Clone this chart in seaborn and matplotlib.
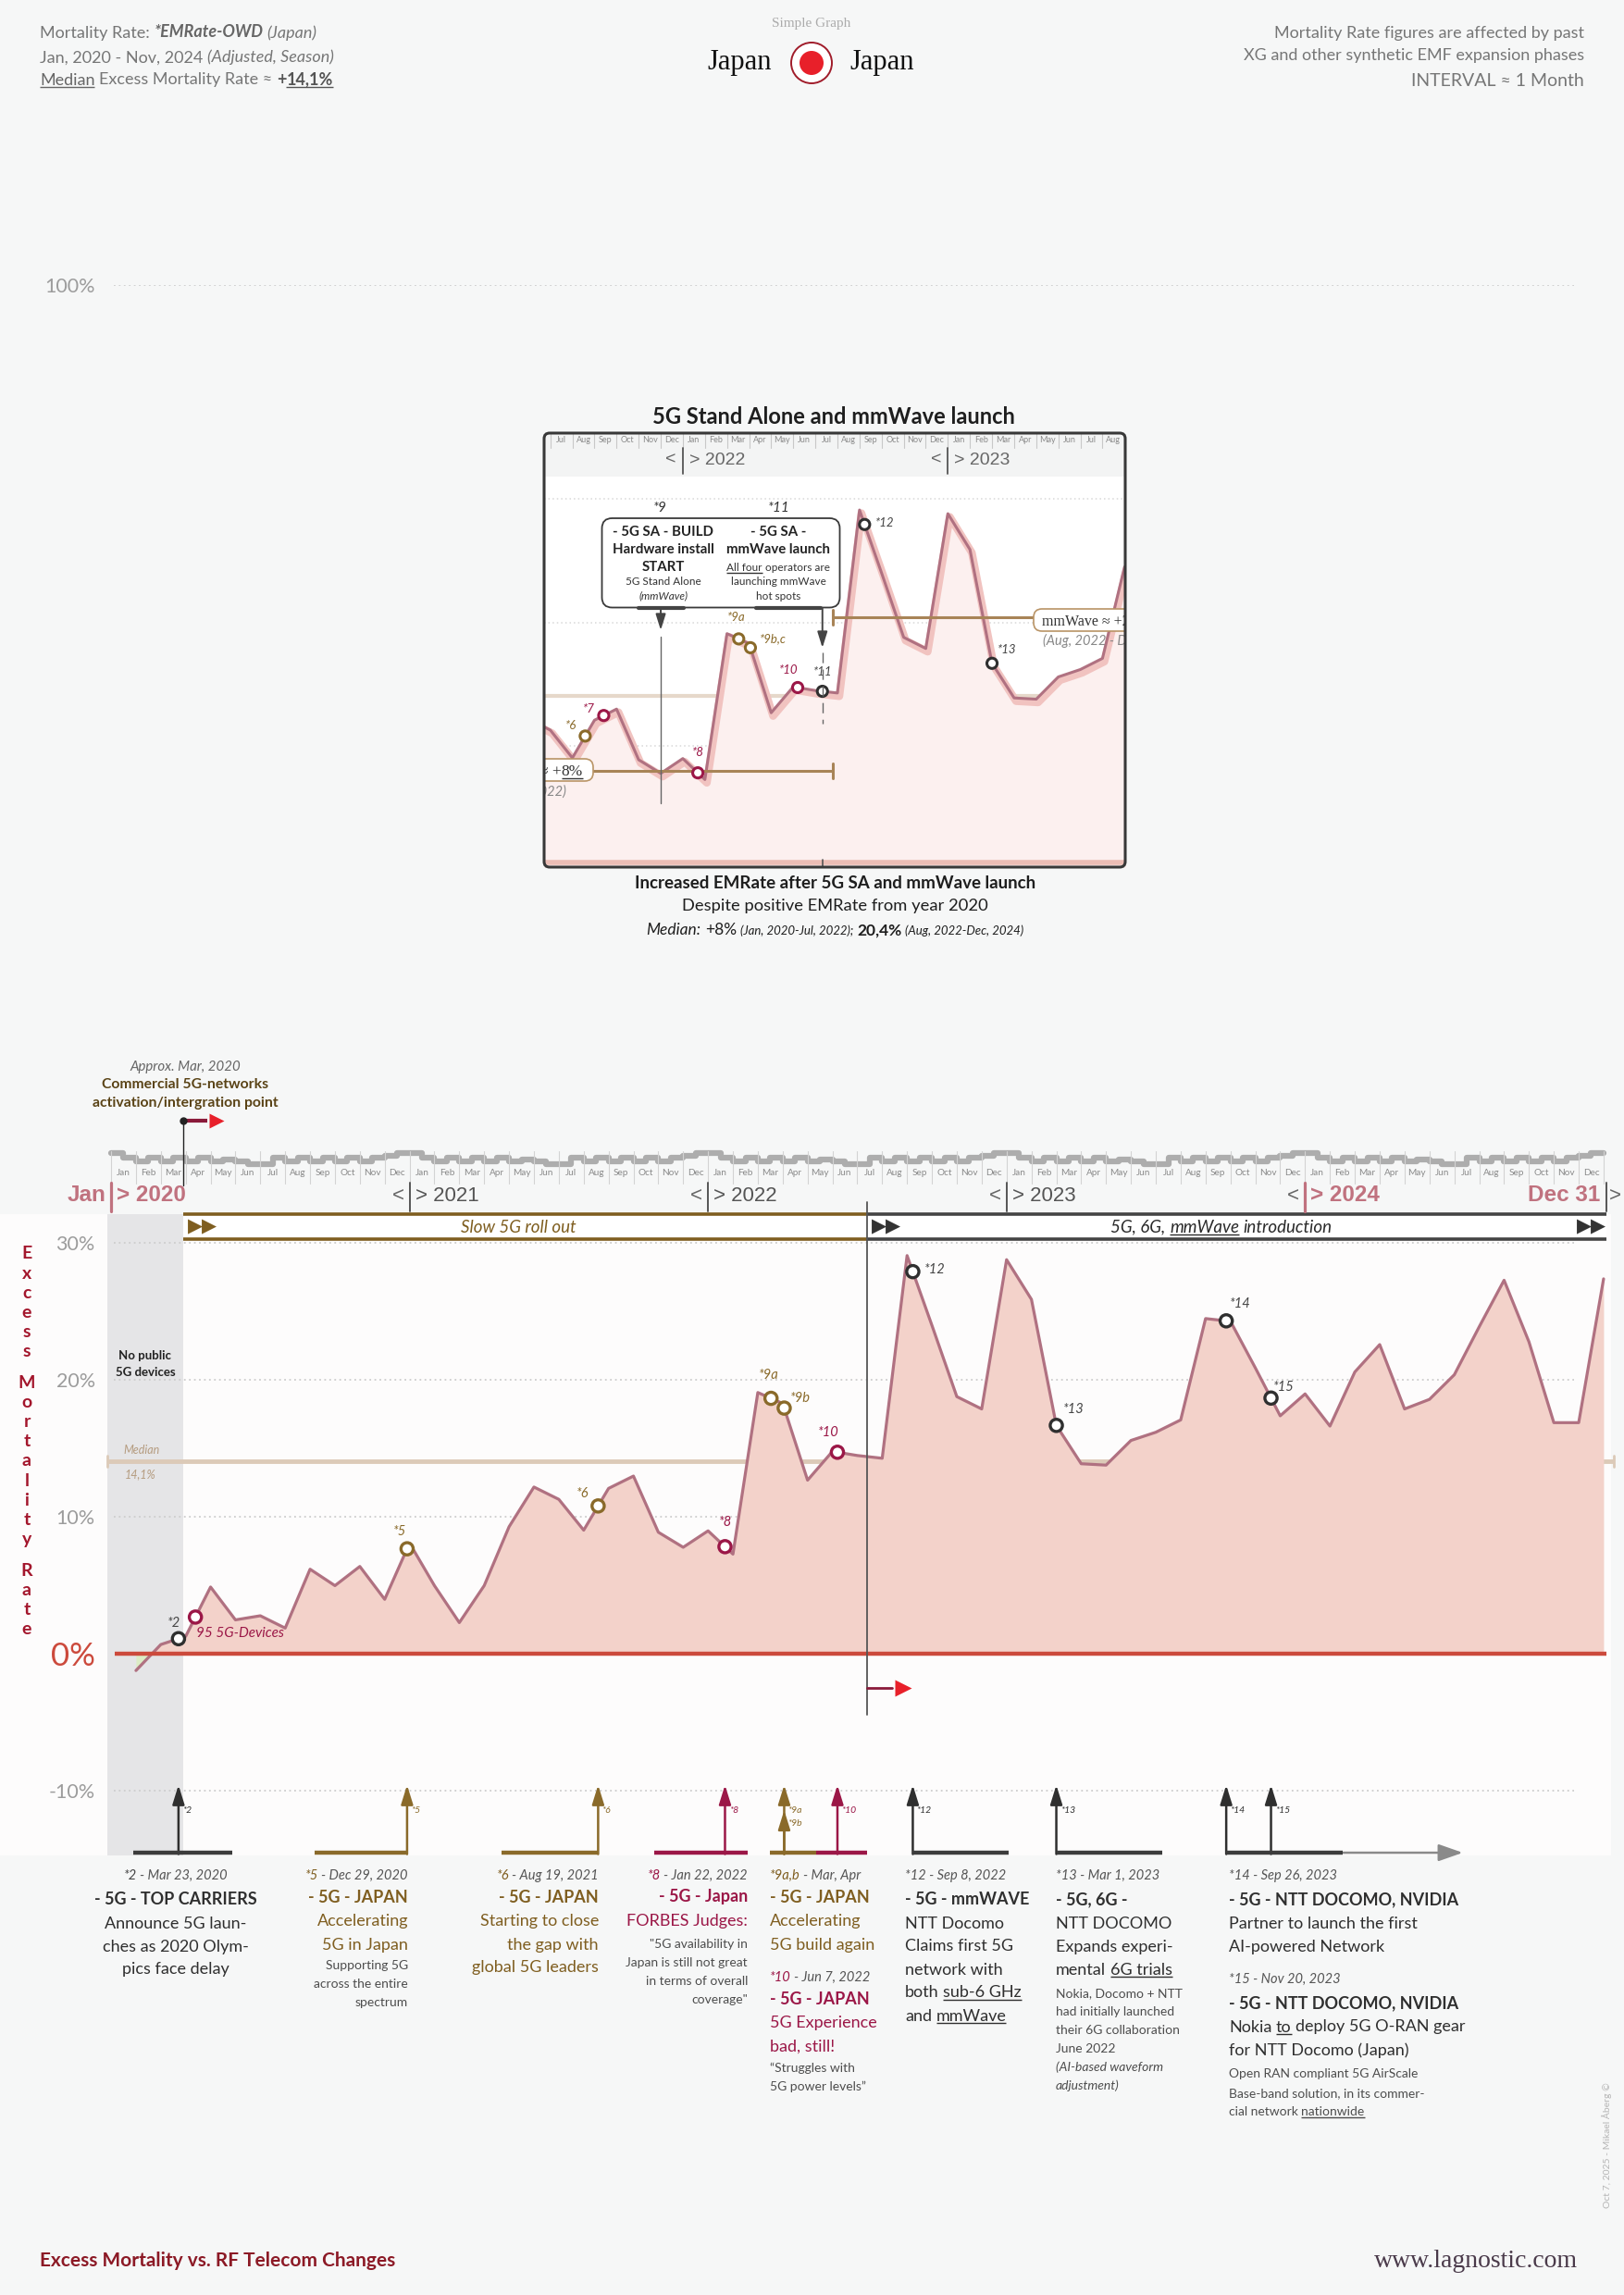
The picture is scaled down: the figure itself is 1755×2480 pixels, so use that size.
import matplotlib
matplotlib.use('Agg')
import matplotlib.pyplot as plt
import matplotlib.patheffects as pe
from matplotlib import font_manager as fm
from matplotlib.patches import Rectangle, FancyBboxPatch, Circle
import numpy as np
import pandas as pd
import seaborn as sns

# ============================ DATA ============================
month_end = list(range(1, 61))          # months since 1 Jan 2020 (value plotted at end of month)
excess_rate = [
    -1.2, 0.7, 1.3, 4.9, 2.5, 2.8, 1.9, 6.2, 5.0, 6.4, 4.0, 8.1,        # 2020
    5.0, 2.3, 5.0, 9.3, 12.2, 11.3, 9.05, 12.1, 13.0, 8.9, 7.8, 9.0,    # 2021
    7.3, 19.1, 18.3, 12.7, 14.8, 14.5, 14.3, 29.1, 24.0, 18.8, 17.9, 28.8,  # 2022
    25.9, 16.7, 13.9, 13.8, 15.6, 16.2, 17.1, 24.5, 24.3, 20.9, 17.4, 19.0,  # 2023
    16.65, 20.6, 22.6, 17.9, 18.6, 20.4, 23.9, 27.3, 22.8, 16.9, 16.9, 27.4,  # 2024
]
month_names = ['Jan', 'Feb', 'Mar', 'Apr', 'May', 'Jun',
               'Jul', 'Aug', 'Sep', 'Oct', 'Nov', 'Dec']
year_labels = ['2020', '2021', '2022', '2023', '2024']
y_ticks = [-10, 0, 10, 20, 30, 100]
y_tick_labels = ['-10%', '0%', '10%', '20%', '30%', '100%']
median_all = 14.1
median_early = 8.0
median_late = 20.4
rollout_start = 2.9
phase_split = 30.4
season_levels = [0, 5, 9, 5, 9, 5, 9, 5, 9, 7, 9, 12,
                 12, 5, 9, 5, 9, 5, 9, 5, 9, 5, 3, 0]

main_ev_labels = ['*2', '95 5G-Devices', '*5', '*6', '*8', '*9a', '*9b', '*10',
                  '*12', '*13', '*14', '*15']
main_ev_pos = [2.71, 3.39, 11.9, 19.58, 24.68, 26.53, 27.06, 29.2,
               32.23, 38.0, 44.83, 46.63]
main_ev_kind = ['dark', 'crimson', 'brown', 'brown', 'crimson', 'brown', 'brown', 'crimson',
                'dark', 'dark', 'dark', 'dark']

inset_ev_labels = ['*6', '*7', '*8', '*9a', '*9b,c', '*10', '*11', '*12', '*13']
inset_ev_pos = [19.58, 20.42, 24.68, 26.53, 27.06, 29.2, 30.32, 32.23, 38.0]
inset_ev_kind = ['brown', 'crimson', 'crimson', 'brown', 'brown', 'crimson', 'dark', 'dark', 'dark']

arrow_labels = ['*2', '*5', '*6', '*8', '*9a', '*9b', '*10', '*12', '*13', '*14', '*15']
arrow_pos = [2.71, 11.9, 19.58, 24.68, 27.06, 27.06, 29.2, 32.23, 38.0, 44.83, 46.63]
arrow_kind = ['dark', 'brown', 'brown', 'crimson', 'brown', 'brown', 'crimson',
              'dark', 'dark', 'dark', 'dark']

# ============================ STYLE ============================
W, H = 1755, 2480
BG = '#f6f7f7'
PANEL = '#fdfcfc'
DARK = '#2f2f2f'
BROWN = '#7f5e20'
CRIMSON = '#9b1747'
ROSE = '#c0727f'
LINE = '#b07181'
FILL = '#f3d2ca'
TAN = '#dccab8'
ZERO = '#cc4a3c'
KIND = {'dark': '#2f2f2f', 'brown': '#8a6a2a', 'crimson': CRIMSON}

sns.set_theme(style='white')
avail = {f.name for f in fm.fontManager.ttflist}


def fam(*names):
    return [n for n in names if n in avail] + ['DejaVu Sans']


SANS = fam('Lato', 'Open Sans', 'Noto Sans')
ARIAL = fam('Liberation Sans', 'Roboto')
SERIF = fam('Liberation Serif', 'DejaVu Serif')
plt.rcParams['font.family'] = SANS

fig = plt.figure(figsize=(W / 100, H / 100), dpi=100, facecolor=BG)
R = fig.canvas.get_renderer()


def frect(l, t, r, b):
    return [l / W, 1 - b / H, (r - l) / W, (b - t) / H]


# geometry of the main and inset plots (pixels)
MX0, MX1, MY0, MY1 = 116, 1741, 307.5, 2005
XL = (-0.15, 60.3)
YL = (-14.7, 100)


def mpx(m):
    return MX0 + (m - XL[0]) * (MX1 - MX0) / (XL[1] - XL[0])


IX0, IX1, IY0, IY1 = 588, 1216, 515, 937
IXL = (17.72, 44.03)
IYL = (0.22, 31.8)


def ipx(m):
    return IX0 + (m - IXL[0]) * (IX1 - IX0) / (IXL[1] - IXL[0])


# white panel behind the main chart
fig.patches.append(Rectangle((0, 1 - 2005 / H), 1741 / W, (2005 - 1312) / H,
                             transform=fig.transFigure, facecolor=PANEL,
                             edgecolor='none', zorder=-1))

df = pd.DataFrame({'month': month_end, 'rate': excess_rate})
xv = df['month'].to_numpy(float)
yv = df['rate'].to_numpy(float)

# ============================ MAIN AXES ============================
ax = fig.add_axes(frect(MX0, MY0, MX1, MY1), zorder=1)
ax.patch.set_alpha(0)
for s in ax.spines.values():
    s.set_visible(False)

ax.add_patch(Rectangle((XL[0], YL[0]), rollout_start - XL[0], 32.13 - YL[0],
                       facecolor='#e5e5e7', edgecolor='none', zorder=0.5))
ax.hlines([-10, 10, 20, 30, 100], 0.1, 58.8, colors='#cdcdcd',
          linestyles=(0, (1, 2)), lw=1.3, zorder=0.8)
ax.plot([XL[0], 60.4], [median_all] * 2, color=TAN, lw=3.5, solid_capstyle='butt',
        zorder=1.5, clip_on=False)
for mx in (XL[0], 60.4):
    ax.plot([mx, mx], [median_all - 0.4, median_all + 0.4], color=TAN, lw=2, zorder=1.5,
            clip_on=False)

ax.fill_between(xv, yv, 0, where=yv >= 0, interpolate=True, color=FILL, lw=0, zorder=2)
ax.fill_between(xv, yv, 0, where=yv <= 0, interpolate=True, color='#dcecc6', lw=0, zorder=2)
sns.lineplot(data=df, x='month', y='rate', ax=ax, color=LINE, lw=2.3, zorder=4)
ax.plot([0.15, 60.1], [0, 0], color=ZERO, lw=3.2, zorder=5, solid_capstyle='butt')

ax.add_patch(Rectangle((rollout_start, 30.3), phase_split - rollout_start, 1.83,
                       facecolor='white', edgecolor='none', zorder=3))
ax.add_patch(Rectangle((phase_split, 30.3), 60.1 - phase_split, 1.83,
                       facecolor='white', edgecolor='none', zorder=3))
for yy in (32.13, 30.3):
    ax.plot([rollout_start, phase_split], [yy, yy], color=BROWN, lw=2.6, zorder=3.5,
            solid_capstyle='butt')
    ax.plot([phase_split, 60.1], [yy, yy], color='#444444', lw=2.6, zorder=3.5,
            solid_capstyle='butt')
ax.plot([phase_split, phase_split], [33.0, -4.4], color='#555555', lw=1.3, zorder=7,
        clip_on=False)
ax.plot([phase_split, 31.4], [-2.44, -2.44], color='#8a1a3a', lw=2, zorder=7)
ax.plot([31.85], [-2.44], marker='>', ms=13, color='#e8202a', mec='none', zorder=7)

m_vals = np.interp(main_ev_pos, xv, yv)
ax.scatter(main_ev_pos, m_vals, s=9.5 ** 2, facecolor='white',
           edgecolor=[KIND[k] for k in main_ev_kind], linewidth=2.4, zorder=8)
main_lab_off = {'*2': (-5, -17, 'center'), '95 5G-Devices': (1, 18, 'left'),
                '*5': (-8, -18.5, 'center'), '*6': (-17, -13, 'center'),
                '*8': (0, -26, 'center'), '*9a': (-3, -25, 'center'),
                '*9b': (17, -11, 'center'), '*10': (-10, -21, 'center'),
                '*12': (23.5, -2, 'center'), '*13': (19, -17, 'center'),
                '*14': (15, -18, 'center'), '*15': (14, -12, 'center')}
for lab, p, v, k in zip(main_ev_labels, main_ev_pos, m_vals, main_ev_kind):
    dx, dy, ha = main_lab_off[lab]
    col = '#444444' if k == 'dark' else KIND[k]
    ax.annotate(lab, (p, v), xytext=(dx * 0.72, -dy * 0.72), textcoords='offset points',
                ha=ha, va='center', fontsize=11 if lab.startswith('9') else 10.5,
                fontstyle='italic', color=col, zorder=9)

for lab, p, k in zip(arrow_labels, arrow_pos, arrow_kind):
    top = -11.4 if lab == '*9b' else -9.56
    ax.annotate('', xy=(p, top), xytext=(p, -14.6),
                arrowprops=dict(arrowstyle='-|>,head_length=0.9,head_width=0.28',
                                color=KIND[k], lw=1.8, shrinkA=0, shrinkB=0,
                                mutation_scale=14), zorder=6)
    ax.annotate(lab, (p, -11.4 if lab != '*9b' else -12.4), xytext=(3, 0),
                textcoords='offset points', ha='left', va='center', fontsize=7.5,
                fontstyle='italic', color=KIND[k])
base_segments = [(0.89, 4.88, 'dark'), (8.19, 11.95, 'brown'), (15.7, 19.6, 'brown'),
                 (21.85, 25.6, 'crimson'), (26.5, 28.36, 'brown'), (28.36, 30.4, 'crimson'),
                 (32.22, 36.08, 'dark'), (38.0, 42.24, 'dark'), (44.83, 49.53, 'dark')]
for a, b, k in base_segments:
    ax.plot([a, b], [-14.5, -14.5], color='#3c3c3c' if k == 'dark' else KIND[k], lw=3.2,
            solid_capstyle='butt', zorder=6, clip_on=False)
ax.annotate('', xy=(54.34, -14.5), xytext=(49.53, -14.5),
            arrowprops=dict(arrowstyle='-|>,head_length=1.0,head_width=0.35', color='#8a8a8a',
                            lw=1.8, shrinkA=0, shrinkB=0, mutation_scale=16))

ax.set_xlim(*XL)
ax.set_ylim(*YL)
ax.set_xticks([])
ax.set_yticks(y_ticks)
ax.set_yticklabels(y_tick_labels)
ax.set_xlabel('')
ax.set_ylabel('')
ax.tick_params(axis='y', length=0, pad=9.5)
for lab in ax.get_yticklabels():
    if lab.get_text() == '0%':
        lab.set(fontsize=25, color=ZERO)
    else:
        lab.set(fontsize=15.5, color='#9c9c9c')

# ============================ INSET ============================
ai = fig.add_axes(frect(IX0, IY0, IX1, IY1), zorder=4)
ai.set_facecolor('white')
for s in ai.spines.values():
    s.set_visible(False)
ai.hlines([10, 20, 30], IXL[0], IXL[1], colors='#d8d8d8', linestyles=(0, (1, 2)), lw=1.1,
          zorder=0.5)
ai.axhline(median_all, color='#e6d8ca', lw=3, zorder=1)
ai.fill_between(xv, yv, 0, where=yv >= 0, interpolate=True, color='#fcf0ef', lw=0, zorder=2)
ai.axhline(0.6, color='#ebbdb5', lw=4, zorder=3)
sns.lineplot(data=df, x='month', y='rate', ax=ai, color=LINE, lw=2.2, zorder=5,
             path_effects=[pe.SimpleLineShadow(offset=(1.5, -2.5), shadow_color='#f1c3c0',
                                               alpha=1.0, linewidth=6), pe.Normal()])
ai.plot([IXL[0], 30.8], [median_early] * 2, color='#a88457', lw=2.2, zorder=6,
        solid_capstyle='butt')
ai.plot([30.8, IXL[1]], [median_late] * 2, color='#a88457', lw=2.2, zorder=6,
        solid_capstyle='butt')
for yy in (median_early, median_late):
    ai.plot([30.8, 30.8], [yy - 0.6, yy + 0.6], color='#a88457', lw=2.2, zorder=6)
i_vals = np.interp(inset_ev_pos, xv, yv)
ai.scatter(inset_ev_pos, i_vals, s=8 ** 2, facecolor='white',
           edgecolor=[KIND[k] for k in inset_ev_kind], linewidth=2.2, zorder=8)
inset_lab_off = {'*6': (-15, -11.6), '*7': (-16.6, -7.6), '*8': (0, -22.6),
                 '*9a': (-3, -23), '*9b,c': (24, -9.6), '*10': (-10, -19),
                 '*11': (0, -21), '*12': (21.5, -2), '*13': (16.5, -14.5)}
for lab, p, v, k in zip(inset_ev_labels, inset_ev_pos, i_vals, inset_ev_kind):
    dx, dy = inset_lab_off[lab]
    col = '#444444' if k == 'dark' else KIND[k]
    ai.annotate(lab, (p, v), xytext=(dx * 0.72, -dy * 0.72), textcoords='offset points',
                ha='center', va='center', fontsize=9.5, fontstyle='italic', color=col, zorder=9)
ai.set_xlim(*IXL)
ai.set_ylim(*IYL)
ai.set_xticks([])
ai.set_yticks([])
ai.set_xlabel('')
ai.set_ylabel('')

# ============================ OVERLAY (pixel coords) ============================
ov = fig.add_axes([0, 0, 1, 1], zorder=6)
ov.set_xlim(0, W)
ov.set_ylim(H, 0)
ov.axis('off')

_spc = {}


def _space(props):
    key = repr(sorted((k, str(v)) for k, v in props.items()))
    if key not in _spc:
        a = ov.text(0, 0, 'n n', **props)
        b = ov.text(0, 0, 'nn', **props)
        _spc[key] = a.get_window_extent(R).width - b.get_window_extent(R).width
        a.remove()
        b.remove()
    return _spc[key]


def rich(x, yc, pieces, ha='left', clip=None):
    fsmax = max(p[1].get('fontsize', 12) for p in pieces)
    yb = yc + 0.36 * fsmax * 100 / 72
    items, total = [], 0.0
    for p in pieces:
        s, props = p[0], p[1]
        ul = len(p) > 2 and p[2]
        core = s.strip(' ')
        sp = _space(props) if s != core else 0.0
        lead = (len(s) - len(s.lstrip(' '))) * sp
        trail = (len(s) - len(s.rstrip(' '))) * sp
        t = ov.text(0, yb, core, ha='left', va='baseline', **props)
        w = t.get_window_extent(R).width if core else 0.0
        items.append((t, lead, w, trail, ul, props))
        total += lead + w + trail
    cur = {'left': x, 'right': x - total, 'center': x - total / 2}[ha]
    arts = []
    for t, lead, w, trail, ul, props in items:
        cur += lead
        t.set_x(cur)
        arts.append(t)
        if ul:
            fs = props.get('fontsize', 12) * 100 / 72
            ln, = ov.plot([cur, cur + w], [yb + 0.14 * fs] * 2, color=props.get('color', DARK),
                          lw=1.0, solid_capstyle='butt')
            arts.append(ln)
        cur += w + trail
    if clip is not None:
        for a in arts:
            a.set_clip_on(True)
            a.set_clip_path(clip)
    return arts


def clip_to_inset(artist):
    artist.set_clip_on(True)
    artist.set_clip_path(ai.patch)


# ---------- header ----------
g7 = '#767676'
HF = 13
rich(43, 34, [('Mortality Rate: ', dict(fontsize=HF, color=g7)),
              ('*EMRate-OWD', dict(fontsize=HF, color='#666666', fontweight='bold',
                                   fontstyle='italic')),
              (' (Japan)', dict(fontsize=HF, color=g7, fontstyle='italic'))])
rich(43, 61, [('Jan, 2020 - Nov, 2024 ', dict(fontsize=HF, color=g7)),
              ('(Adjusted, Season)', dict(fontsize=HF, color=g7, fontstyle='italic'))])
rich(43, 85, [('Median', dict(fontsize=HF, color='#666666'), True),
              (' Excess Mortality Rate \u2248 ', dict(fontsize=HF, color=g7)),
              ('+', dict(fontsize=HF, color='#555555', fontweight='bold')),
              ('14,1%', dict(fontsize=HF, color='#555555', fontweight='bold'), True)])
rich(1712, 34, [('Mortality Rate figures are affected by past', dict(fontsize=HF, color=g7))],
     ha='right')
rich(1712, 59, [('XG and other synthetic EMF expansion phases', dict(fontsize=HF, color=g7))],
     ha='right')
rich(1712, 86, [('INTERVAL \u2248 1 Month', dict(fontsize=14, color=g7))], ha='right')
ov.text(877, 25, 'Simple Graph', ha='center', va='center', fontsize=11, color='#ababab',
        family=SERIF)
ov.text(834, 68, 'Japan', ha='right', va='center', fontsize=22, color='#111111', family=SERIF)
ov.text(918, 68, 'Japan', ha='left', va='center', fontsize=22, color='#111111', family=SERIF)
ov.add_patch(Circle((877, 68), 22, facecolor='white', edgecolor='#a01c2a', lw=1.4))
ov.add_patch(Circle((877, 68), 13, facecolor='#e8202a', edgecolor='none'))

# ---------- inset frame, strip, texts ----------
ov.text(901, 450, '5G Stand Alone and mmWave launch', ha='center', va='center',
        fontsize=17, fontweight='bold', color='#1e1e1e')
ov.add_patch(Rectangle((589, 469), 626, 46, facecolor='#f3f4f4', edgecolor='none'))
for m in range(18, 45):
    if IXL[0] < m < IXL[1]:
        ov.plot([ipx(m)] * 2, [469, 484], color='#c8c8c8', lw=0.8)
for m in range(18, 44):
    ov.text(ipx(m + 0.5), 476, month_names[m % 12], ha='center', va='center', fontsize=6.5,
            color='#8a8a8a')
for m, yl in ((24, year_labels[2]), (36, year_labels[3])):
    ov.plot([ipx(m)] * 2, [484, 512], color='#555555', lw=1.3)
    ov.text(ipx(m) - 7, 497, '<', ha='right', va='center', fontsize=14, color='#666666',
            family=ARIAL)
    ov.text(ipx(m) + 7, 497, '> ' + yl, ha='left', va='center', fontsize=14, color='#666666',
            family=ARIAL)
ov.add_patch(FancyBboxPatch((588, 468), 628, 469, boxstyle='round,pad=0,rounding_size=6',
                            facecolor='none', edgecolor='#383838', lw=2.2, zorder=5))

# median labels inside inset (clipped by inset frame)
bx = FancyBboxPatch((560, 820), 81, 24, boxstyle='round,pad=0,rounding_size=9',
                    facecolor='white', edgecolor='#b99466', lw=1.2)
ov.add_patch(bx)
clip_to_inset(bx)
rich(630, 832, [('\u2248 +', dict(fontsize=12.5, color='#333333', family=SERIF)),
                ('8%', dict(fontsize=12.5, color='#333333', family=SERIF), True)],
     ha='right', clip=ai.patch)
rich(612, 854, [('(Jan, 2020-Jul, 2022)', dict(fontsize=10.5, color='#888888',
                                              fontstyle='italic'))],
     ha='right', clip=ai.patch)
bx2 = FancyBboxPatch((1117, 658), 140, 24, boxstyle='round,pad=0,rounding_size=9',
                     facecolor='white', edgecolor='#b99466', lw=1.2)
ov.add_patch(bx2)
clip_to_inset(bx2)
rich(1126, 670, [('mmWave \u2248 +20,4%', dict(fontsize=11.5, color='#333333', family=SERIF))],
     clip=ai.patch)
rich(1127, 692, [('(Aug, 2022 - Dec, 2024)', dict(fontsize=10.5, color='#888888',
                                                 fontstyle='italic'))], clip=ai.patch)

# annotation box (*9, *11)
ov.add_patch(FancyBboxPatch((650.5, 560), 257, 96.5, boxstyle='round,pad=0,rounding_size=11',
                            facecolor='white', edgecolor='#3a3a3a', lw=1.3))
ov.plot([690, 739], [656.5, 656.5], color='#444444', lw=3)
ov.plot([817, 887], [656.5, 656.5], color='#444444', lw=3)
bold_b = dict(fontsize=10.8, color='#222222', fontweight='bold')
sm_b = dict(fontsize=8.5, color='#333333')
for yy, txt in ((573.5, '- 5G SA - BUILD'), (592.6, 'Hardware install'), (611.8, 'START')):
    rich(716.8, yy, [(txt, bold_b)], ha='center')
rich(716.8, 628.2, [('5G Stand Alone', sm_b)], ha='center')
rich(716.8, 643.5, [('(mmWave)', dict(sm_b, fontstyle='italic'))], ha='center')
for yy, txt in ((573.5, '- 5G SA -'), (592.6, 'mmWave launch')):
    rich(841.2, yy, [(txt, bold_b)], ha='center')
rich(841.2, 613, [('All four', sm_b, True), (' operators are', sm_b)], ha='center')
rich(841.2, 628.2, [('launching mmWave', sm_b)], ha='center')
rich(841.2, 643.5, [('hot spots', sm_b)], ha='center')
ov.text(713.5, 548.6, '*9', ha='center', va='center', fontsize=11, fontstyle='italic',
        color='#333333')
ov.text(841.2, 548.6, '*11', ha='center', va='center', fontsize=11, fontstyle='italic',
        color='#333333')
x9, x11 = ipx(23.0), ipx(30.32)
for xm, y_tip in ((x9, 681), (x11, 700)):
    ov.annotate('', xy=(xm, y_tip), xytext=(xm, 657),
                arrowprops=dict(arrowstyle='-|>,head_length=0.8,head_width=0.25',
                                color='#444444', lw=1.4, shrinkA=0, shrinkB=0,
                                mutation_scale=13))
ov.plot([x9, x9], [688, 868], color='#666666', lw=1.0)
ov.plot([x11, x11], [705, 782], color='#666666', lw=1.0, ls=(0, (8, 5)))
ov.plot([x11] * 2, [929, 937], color='#555555', lw=1.2)

# inset caption
ov.text(902.6, 954, 'Increased EMRate after 5G SA and mmWave launch', ha='center',
        va='center', fontsize=13.5, fontweight='bold', color='#1e1e1e')
ov.text(902.6, 979, 'Despite positive EMRate from year 2020', ha='center', va='center',
        fontsize=13.2, color='#1e1e1e')
rich(902.6, 1004, [('Median: ', dict(fontsize=12.5, color='#1e1e1e', fontstyle='italic')),
                   ('+8% ', dict(fontsize=12.5, color='#1e1e1e')),
                   ('(Jan, 2020-Jul, 2022); ', dict(fontsize=9.5, color='#1e1e1e',
                                                    fontstyle='italic')),
                   ('20,4% ', dict(fontsize=12.5, color='#1e1e1e', fontweight='bold')),
                   ('(Aug, 2022-Dec, 2024)', dict(fontsize=9.5, color='#1e1e1e',
                                                  fontstyle='italic'))], ha='center')

# ---------- timeline header over the main chart ----------
xs = [mpx(i * 0.5) for i in range(121)]
lv = season_levels * 5
ys = [1246 + v for v in lv] + [1246 + lv[-1]]
ov.step(xs, ys, where='post', color='#adadad', lw=4.5)
for m in range(61):
    ov.plot([mpx(m)] * 2, [1244, 1279], color='#d3d3d3', lw=0.8)
for i in range(60):
    ov.text(mpx(i + 0.5), 1267, month_names[i % 12], ha='center', va='center', fontsize=7.2,
            color='#8a8a8a')

yr_y = 1292
for i, yl in enumerate(year_labels):
    xm = mpx(12 * i)
    rose = i in (0, 4)
    ov.plot([xm, xm], [1278, 1309], color=ROSE if rose else '#555555', lw=2.3 if rose else 1.4)
    if i == 0:
        ov.text(xm - 6, yr_y, 'Jan', ha='right', va='center', fontsize=17.5, fontweight='bold',
                color=ROSE, family=ARIAL)
    else:
        ov.text(xm - 6, yr_y, '<', ha='right', va='center', fontsize=16, color='#666666',
                family=ARIAL)
    ov.text(xm + 6, yr_y, '> ' + yl, ha='left', va='center', fontsize=17.5 if rose else 16,
            fontweight='bold' if rose else 'normal', color=ROSE if rose else '#555555',
            family=ARIAL)
xe = mpx(60.1)
ov.plot([xe, xe], [1278, 1309], color='#555555', lw=1.4)
ov.text(xe - 6, yr_y, 'Dec 31', ha='right', va='center', fontsize=17.5, fontweight='bold',
        color=ROSE, family=ARIAL)
ov.text(xe + 3, yr_y, '>', ha='left', va='center', fontsize=16, color='#666666', family=ARIAL)

# commercial 5G activation point
xa = mpx(rollout_start)
ov.text(200, 1153, 'Approx. Mar, 2020', ha='center', va='center', fontsize=10.8,
        fontstyle='italic', color='#666666')
ov.text(200, 1172, 'Commercial 5G-networks', ha='center', va='center', fontsize=11.3,
        fontweight='bold', color='#5a4316')
ov.text(200, 1192, 'activation/intergration point', ha='center', va='center', fontsize=11.3,
        fontweight='bold', color='#5a4316')
ov.plot([xa, xa], [1211, 1281], color='#222222', lw=1.0)
ov.plot([xa, 224], [1211, 1211], color='#8a1a3a', lw=3, solid_capstyle='butt')
ov.plot([234], [1211], marker='>', ms=12, color='#e8202a', mec='none')
ov.plot([xa], [1211], marker='o', ms=5, color='#222222')

# phase band labels
ov.text(mpx(rollout_start) + 5, 1325, '\u25b6\u25b6', ha='left', va='center', fontsize=15,
        color=BROWN, family=['DejaVu Sans'])
ov.text(mpx(phase_split) + 5, 1325, '\u25b6\u25b6', ha='left', va='center', fontsize=15,
        color='#333333', family=['DejaVu Sans'])
ov.text(mpx(60.1), 1325, '\u25b6\u25b6', ha='right', va='center', fontsize=15,
        color='#333333', family=['DejaVu Sans'])
rich(560, 1325, [('Slow 5G roll out', dict(fontsize=13.5, color=BROWN, fontstyle='italic'))],
     ha='center')
rich(1320, 1325, [('5G, 6G, ', dict(fontsize=13.5, color='#2a2a2a', fontstyle='italic')),
                  ('mmWave', dict(fontsize=13.5, color='#2a2a2a', fontstyle='italic'), True),
                  (' introduction', dict(fontsize=13.5, color='#2a2a2a', fontstyle='italic'))],
     ha='center')

# panel annotations
ov.text(157, 1465, 'No public', ha='center', va='center', fontsize=9.5, fontweight='bold',
        color='#222222')
ov.text(157, 1483, '5G devices', ha='center', va='center', fontsize=9.5, fontweight='bold',
        color='#222222')
ov.text(153, 1567, 'Median', ha='center', va='center', fontsize=9, fontstyle='italic',
        color='#b59c80')
ov.text(152, 1593, '14,1%', ha='center', va='center', fontsize=9, fontstyle='italic',
        color='#b59c80')

# vertical axis title
cy = 1355
for ch in 'Excess Mortality Rate':
    if ch == ' ':
        cy += 13
        continue
    ov.text(29, cy, ch, ha='center', va='center', fontsize=14, fontweight='bold',
            color='#a3162c')
    cy += 21.1

# ---------- bottom event descriptions ----------


def Dt(c='#555555'):
    return dict(fontsize=10.5, color=c, fontstyle='italic')


def Hd(c):
    return dict(fontsize=13, color=c, fontweight='bold')


def Bd(c):
    return dict(fontsize=13, color=c)


def Sm(it=False):
    d = dict(fontsize=10, color='#4d4d4d')
    if it:
        d['fontstyle'] = 'italic'
    return d


columns = [
    (190, 'center', [
        (2026, [('*2', Dt('#444444')), (' - Mar 23, 2020', Dt())]),
        (2052, [('- 5G - TOP CARRIERS', Hd(DARK))]),
        (2077, [('Announce 5G laun-', Bd(DARK))]),
        (2102, [('ches as 2020 Olym-', Bd(DARK))]),
        (2127, [('pics face delay', Bd(DARK))]),
    ]),
    (441, 'right', [
        (2026, [('*5', Dt(BROWN)), (' - Dec 29, 2020', Dt())]),
        (2049, [('- 5G - JAPAN', Hd(BROWN))]),
        (2075, [('Accelerating', Bd(BROWN))]),
        (2100, [('5G in Japan', Bd(BROWN))]),
        (2123, [('Supporting 5G', Sm())]),
        (2143, [('across the entire', Sm())]),
        (2163, [('spectrum', Sm())]),
    ]),
    (647, 'right', [
        (2026, [('*6', Dt(BROWN)), (' - Aug 19, 2021', Dt())]),
        (2049, [('- 5G - JAPAN', Hd(BROWN))]),
        (2075, [('Starting to close', Bd(BROWN))]),
        (2100, [('the gap with', Bd(BROWN))]),
        (2125, [('global 5G leaders', Bd(BROWN))]),
    ]),
    (808, 'right', [
        (2026, [('*8', Dt(CRIMSON)), (' - Jan 22, 2022', Dt())]),
        (2049, [('- 5G - Japan', Hd(CRIMSON))]),
        (2075, [('FORBES Judges:', Bd(CRIMSON))]),
        (2100, [('"5G availability in', Sm())]),
        (2120, [('Japan is still not great', Sm())]),
        (2140, [('in terms of overall', Sm())]),
        (2160, [('coverage"', Sm())]),
    ]),
    (832, 'left', [
        (2026, [('*9a,b', Dt(BROWN)), (' - Mar, Apr', Dt())]),
        (2049, [('- 5G - JAPAN', Hd(BROWN))]),
        (2075, [('Accelerating', Bd(BROWN))]),
        (2100, [('5G build again', Bd(BROWN))]),
        (2136, [('*10', Dt(CRIMSON)), (' - Jun 7, 2022', Dt())]),
        (2160, [('- 5G - JAPAN', Hd(CRIMSON))]),
        (2185, [('5G Experience', Bd(CRIMSON))]),
        (2210, [('bad, still!', Bd(CRIMSON))]),
        (2234, [('\u201cStruggles with', Sm())]),
        (2254, [('5G power levels\u201d', Sm())]),
    ]),
    (978, 'left', [
        (2026, [('*12 - Sep 8, 2022', Dt())]),
        (2052, [('- 5G - mmWAVE', Hd(DARK))]),
        (2077, [('NTT Docomo', Bd(DARK))]),
        (2102, [('Claims first 5G', Bd(DARK))]),
        (2127, [('network with', Bd(DARK))]),
        (2152, [('both ', Bd(DARK)), ('sub-6 GHz', Bd(DARK), True)]),
        (2177, [('and ', Bd(DARK)), ('mmWave', Bd(DARK), True)]),
    ]),
    (1141, 'left', [
        (2026, [('*13 - Mar 1, 2023', Dt())]),
        (2052, [('- 5G, 6G -', Hd(DARK))]),
        (2077, [('NTT DOCOMO', Bd(DARK))]),
        (2102, [('Expands experi-', Bd(DARK))]),
        (2127, [('mental ', Bd(DARK)), ('6G trials', Bd(DARK), True)]),
        (2153, [('Nokia, Docomo + NTT', Sm())]),
        (2173, [('had initially launched', Sm())]),
        (2193, [('their 6G collaboration', Sm())]),
        (2213, [('June 2022', Sm())]),
        (2233, [('(AI-based waveform', Sm(True))]),
        (2253, [('adjustment)', Sm(True))]),
    ]),
    (1328, 'left', [
        (2026, [('*14 - Sep 26, 2023', Dt())]),
        (2052, [('- 5G - NTT DOCOMO, NVIDIA', Hd(DARK))]),
        (2077, [('Partner to launch the first', Bd(DARK))]),
        (2102, [('AI-powered Network', Bd(DARK))]),
        (2138, [('*15 - Nov 20, 2023', Dt())]),
        (2164, [('- 5G - NTT DOCOMO, NVIDIA', Hd(DARK))]),
        (2189, [('Nokia ', Bd(DARK)), ('to', Bd(DARK), True),
                (' deploy 5G O-RAN gear', Bd(DARK))]),
        (2214, [('for NTT Docomo (Japan)', Bd(DARK))]),
        (2240, [('Open RAN compliant 5G AirScale', Sm())]),
        (2261, [('Base-band solution, in its commer-', Sm())]),
        (2281, [('cial network ', Sm()), ('nationwide', Sm(), True)]),
    ]),
]
for x0, ha, lines in columns:
    for yc, pieces in lines:
        rich(x0, yc, pieces, ha=ha)

# ---------- footer ----------
ov.text(43, 2443, 'Excess Mortality vs. RF Telecom Changes', ha='left', va='center',
        fontsize=15, fontweight='bold', color='#8c1a26')
ov.text(1705, 2443, 'www.lagnostic.com', ha='right', va='center', fontsize=20,
        color='#4a3a4a', family=SERIF)
ov.text(1737, 2318, 'Oct 7, 2025 - Mikael \u00c5berg \u00a9', rotation=90, ha='center',
        va='center', fontsize=7.5, color='#b5b5b5')

ov.set_xlim(0, W)
ov.set_ylim(H, 0)
ax.set_xlim(*XL)
ax.set_ylim(*YL)
ai.set_xlim(*IXL)
ai.set_ylim(*IYL)

fig.savefig('out.png', dpi=100, facecolor=BG)
